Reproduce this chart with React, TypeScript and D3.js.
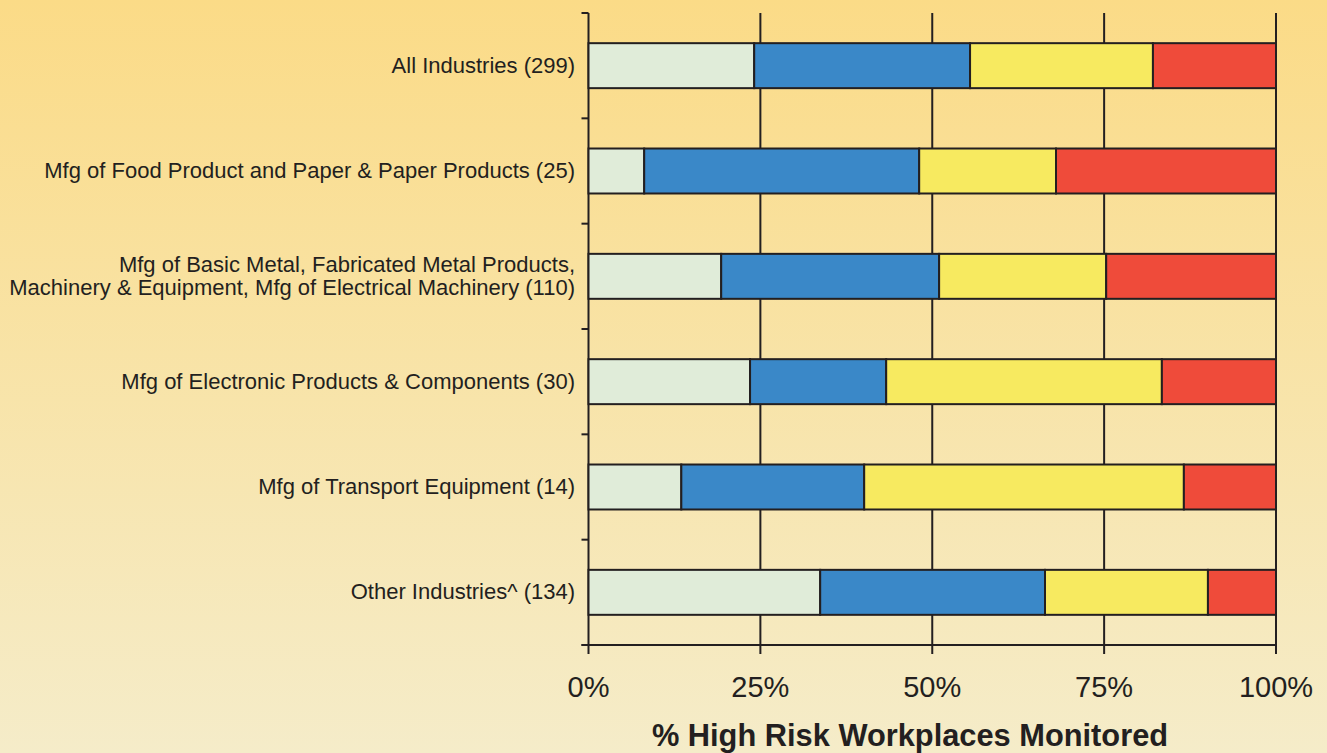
import React from "react";
import * as d3 from "d3";

const categories = [
  "All Industries (299)",
  "Mfg of Food Product and Paper & Paper Products (25)",
  "Mfg of Basic Metal, Fabricated Metal Products,\nMachinery & Equipment, Mfg of Electrical Machinery (110)",
  "Mfg of Electronic Products & Components (30)",
  "Mfg of Transport Equipment (14)",
  "Other Industries^ (134)",
];

const seriesKeys = ["s1", "s2", "s3", "s4"];
const s1 = [24.1, 8.1, 19.3, 23.5, 13.5, 33.7];
const s2 = [31.4, 40.0, 31.7, 19.8, 26.6, 32.7];
const s3 = [26.6, 19.9, 24.3, 40.1, 46.5, 23.7];
const s4 = [17.9, 32.0, 24.7, 16.6, 13.4, 9.9];
const seriesColors = ["#e0ecd9", "#3a88c8", "#f7ea60", "#ef4b3a"];

const xTicks = [0, 25, 50, 75, 100];
const xTickLabels = ["0%", "25%", "50%", "75%", "100%"];
const xTitle = "% High Risk Workplaces Monitored";

const W = 1327;
const H = 753;
const left = 588.5;
const right = 1276;
const top = 13;
const bottom = 645;
const ink = "#231f20";
const font = "'Liberation Sans', Arial, Helvetica, sans-serif";

export default function App() {
  const x = d3.scaleLinear().domain([0, 100]).range([left, right]);
  const y = d3
    .scaleBand<string>()
    .domain(categories)
    .range([top, bottom])
    .paddingInner(0.573)
    .paddingOuter(0.2865);

  const table = categories.map((c, i) => ({
    cat: c,
    s1: s1[i],
    s2: s2[i],
    s3: s3[i],
    s4: s4[i],
  }));
  const stacked = d3.stack<any>().keys(seriesKeys)(table);
  const step = y.step();
  const boundaries = d3.range(categories.length + 1).map((i) => top + i * step);

  return (
    <svg
      width={W}
      height={H}
      style={{ position: "absolute", left: 0, top: 0 }}
      fontFamily={font}
    >
      <defs>
        <linearGradient id="bg" x1="0" y1="0" x2="0" y2="1">
          <stop offset="0%" stopColor="#fbdb87" />
          <stop offset="100%" stopColor="#f5ecc9" />
        </linearGradient>
      </defs>
      <rect x={0} y={0} width={W} height={H} fill="url(#bg)" />

      {xTicks.slice(1).map((t) => (
        <line
          key={"g" + t}
          x1={x(t)}
          x2={x(t)}
          y1={top}
          y2={bottom + 9}
          stroke={ink}
          strokeWidth={2}
        />
      ))}
      <line x1={x(0)} x2={x(0)} y1={top} y2={bottom + 9} stroke={ink} strokeWidth={2} />
      {boundaries.map((b, i) => (
        <line key={"lt" + i} x1={left - 7} x2={left} y1={b} y2={b} stroke={ink} strokeWidth={2} />
      ))}
      <line x1={left - 7} x2={right} y1={bottom} y2={bottom} stroke={ink} strokeWidth={2} />

      {stacked.map((layer, si) => (
        <g key={layer.key}>
          {layer.map((d, i) => (
            <rect
              key={i}
              x={x(d[0])}
              y={y(categories[i])}
              width={x(d[1]) - x(d[0])}
              height={y.bandwidth()}
              fill={seriesColors[si]}
              stroke={ink}
              strokeWidth={2}
            />
          ))}
        </g>
      ))}

      {categories.map((c) => {
        const lines = c.split("\n");
        const cy = (y(c) as number) + y.bandwidth() / 2;
        const lh = 23;
        return (
          <text
            key={c}
            x={575}
            y={cy - ((lines.length - 1) * lh) / 2 - 1}
            textAnchor="end"
            dominantBaseline="central"
            fontSize={22}
            fill={ink}
          >
            {lines.map((l, li) => (
              <tspan key={li} x={575} dy={li === 0 ? 0 : lh}>
                {l}
              </tspan>
            ))}
          </text>
        );
      })}

      {xTicks.map((t, i) => (
        <text
          key={"xl" + t}
          x={x(t)}
          y={697}
          textAnchor="middle"
          fontSize={29}
          fill={ink}
        >
          {xTickLabels[i]}
        </text>
      ))}

      <text
        x={910}
        y={746}
        textAnchor="middle"
        fontSize={30.8}
        fontWeight="bold"
        fill={ink}
      >
        {xTitle}
      </text>
    </svg>
  );
}
